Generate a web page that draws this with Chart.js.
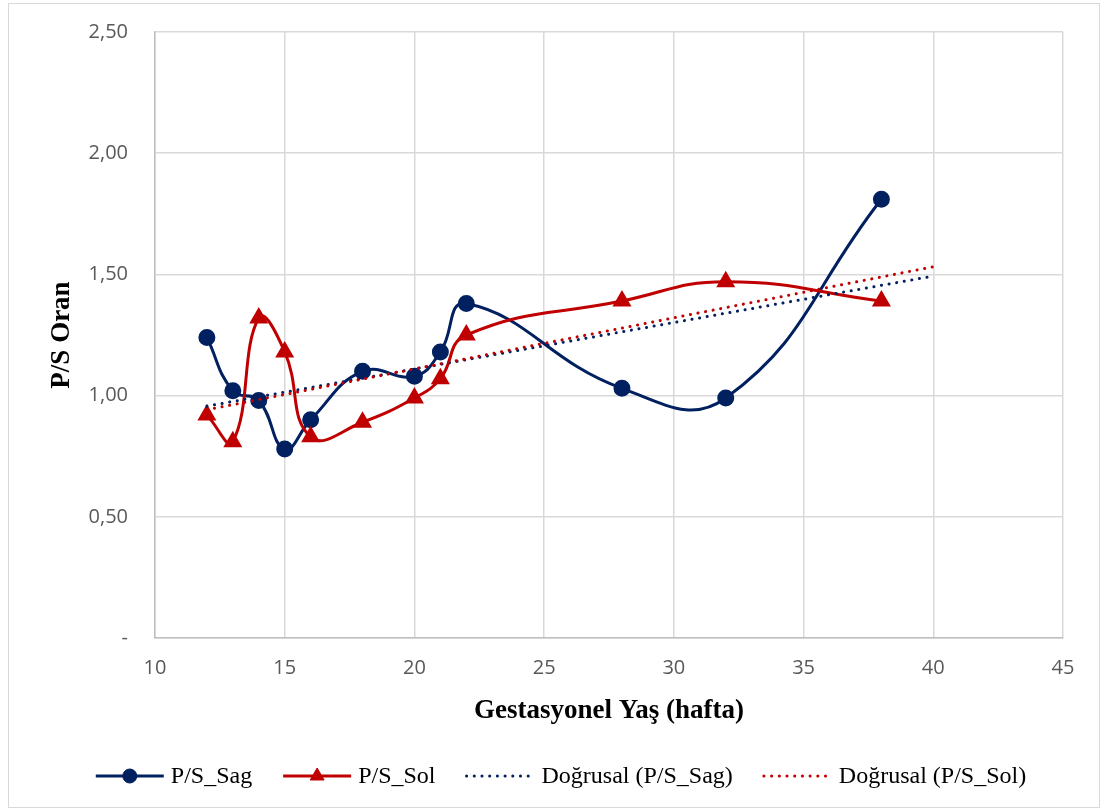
<!DOCTYPE html>
<html>
<head>
<meta charset="utf-8">
<script src="https://cdn.jsdelivr.net/npm/chart.js@4/dist/chart.umd.min.js"></script>
<style>
  html, body { margin: 0; padding: 0; background: #ffffff; }
  #wrap { position: relative; width: 1105px; height: 812px; }
</style>
</head>
<body>
<div id="wrap"><canvas id="c" width="1105" height="812"></canvas></div>
<script>
// Gestational age (weeks) and P/S ratios for right and left sides
const weeks  = [12, 13, 14, 15, 16, 18, 20, 21, 22, 28, 32, 38];
const psSag  = [1.24, 1.02, 0.98, 0.78, 0.90, 1.10, 1.08, 1.18, 1.38, 1.03, 0.99, 1.81];
const psSol  = [0.92, 0.81, 1.32, 1.18, 0.83, 0.89, 0.99, 1.07, 1.25, 1.39, 1.47, 1.39];
const xTicks = [10, 15, 20, 25, 30, 35, 40, 45];
const yTicks = [0, 0.5, 1.0, 1.5, 2.0, 2.5];
const trendSpan = [12, 40];   // linear trend drawn from first week forward to 40

const NAVY = '#002060';
const RED  = '#C00000';

// least-squares line through (xs, ys)
function linearFit(xs, ys) {
  const n = xs.length;
  const mx = xs.reduce((a, b) => a + b, 0) / n;
  const my = ys.reduce((a, b) => a + b, 0) / n;
  let sxy = 0, sxx = 0;
  for (let i = 0; i < n; i++) {
    sxy += (xs[i] - mx) * (ys[i] - my);
    sxx += (xs[i] - mx) * (xs[i] - mx);
  }
  const slope = sxy / sxx;
  return x => my + slope * (x - mx);
}

const pts = ys => weeks.map((w, i) => ({ x: w, y: ys[i] }));
const trend = ys => { const f = linearFit(weeks, ys); return trendSpan.map(x => ({ x, y: f(x) })); };

const fmtY = v => (Math.abs(v) < 1e-9 ? '-' : v.toFixed(2).replace('.', ','));

const frame = {
  id: 'frame',
  beforeDraw(chart) {
    const ctx = chart.ctx;
    ctx.save();
    ctx.fillStyle = '#ffffff';
    ctx.fillRect(0, 0, chart.width, chart.height);
    ctx.strokeStyle = '#d9d9d9';
    ctx.lineWidth = 1;
    ctx.strokeRect(8.5, 3.5, 1091, 804);
    ctx.restore();
  }
};

// legend row under the plot: line sample, optional marker, label
const bottomLegend = {
  id: 'bottomLegend',
  afterDraw(chart) {
    const ctx = chart.ctx;
    const items = chart.data.datasets;
    const symW = 68, textGap = 7, itemGap = 31, cy = 776;
    ctx.save();
    ctx.font = '24px "Liberation Serif", "Times New Roman", serif';
    ctx.textBaseline = 'middle';
    const widths = items.map(d => symW + textGap + ctx.measureText(d.label).width);
    const total = widths.reduce((a, b) => a + b, 0) + itemGap * (items.length - 1);
    let x = 561 - total / 2;
    items.forEach((d, i) => {
      ctx.save();
      ctx.strokeStyle = d.borderColor;
      ctx.lineWidth = d.borderWidth;
      ctx.lineCap = d.borderCapStyle || 'butt';
      ctx.setLineDash(d.borderDash || []);
      ctx.beginPath();
      ctx.moveTo(x, cy);
      ctx.lineTo(x + symW, cy);
      ctx.stroke();
      ctx.restore();
      if (d.pointRadius > 0) {
        ctx.save();
        ctx.fillStyle = d.pointBackgroundColor;
        ctx.strokeStyle = d.pointBorderColor;
        Chart.helpers.drawPoint(ctx, {
          pointStyle: d.pointStyle, radius: d.pointRadius, rotation: 0, borderWidth: 1
        }, x + symW / 2, cy);
        ctx.restore();
      }
      ctx.fillStyle = '#000000';
      ctx.textAlign = 'left';
      ctx.fillText(d.label, x + symW + textGap, cy + 1);
      x += widths[i] + itemGap;
    });
    ctx.restore();
  }
};

new Chart(document.getElementById('c'), {
  type: 'scatter',
  data: {
    datasets: [
      {
        label: 'P/S_Sag', data: pts(psSag), showLine: true, tension: 0.45,
        borderColor: NAVY, borderWidth: 3,
        pointStyle: 'circle', pointRadius: 7,
        pointBackgroundColor: NAVY, pointBorderColor: NAVY, order: 4
      },
      {
        label: 'P/S_Sol', data: pts(psSol), showLine: true, tension: 0.45,
        borderColor: RED, borderWidth: 3,
        pointStyle: 'triangle', pointRadius: 8,
        pointBackgroundColor: RED, pointBorderColor: RED, order: 3
      },
      {
        label: 'Doğrusal (P/S_Sag)', data: trend(psSag), showLine: true,
        borderColor: NAVY, borderWidth: 3, borderDash: [0.1, 7.6], borderCapStyle: 'round',
        pointRadius: 0, order: 2
      },
      {
        label: 'Doğrusal (P/S_Sol)', data: trend(psSol), showLine: true,
        borderColor: RED, borderWidth: 3, borderDash: [0.1, 7.6], borderCapStyle: 'round',
        pointRadius: 0, order: 1
      }
    ]
  },
  options: {
    responsive: false,
    animation: false,
    devicePixelRatio: 1,
    layout: { padding: { left: 0, top: 32, right: 42, bottom: 72 } },
    plugins: { legend: { display: false }, tooltip: { enabled: false } },
    scales: {
      x: {
        type: 'linear', min: xTicks[0], max: xTicks[xTicks.length - 1],
        afterBuildTicks: s => { s.ticks = xTicks.map(v => ({ value: v })); },
        afterFit: s => { s.height = 102; },
        grid: { color: '#d9d9d9', lineWidth: 1.5, drawTicks: false },
        border: { color: '#bfbfbf', width: 1.5 },
        ticks: {
          padding: 18, color: '#595959',
          font: { family: '"Open Sans", sans-serif', size: 20 },
          callback: v => String(v)
        },
        title: {
          display: true, text: 'Gestasyonel Yaş (hafta)', color: '#000000',
          font: { family: '"Liberation Serif", "Times New Roman", serif', size: 27, weight: 'bold' },
          padding: { top: 0, bottom: 13 }
        }
      },
      y: {
        type: 'linear', min: yTicks[0], max: yTicks[yTicks.length - 1],
        afterBuildTicks: s => { s.ticks = yTicks.map(v => ({ value: v })); },
        afterFit: s => { s.width = 155; s.paddingTop = 0; s.paddingBottom = 0; },
        grid: { color: '#d9d9d9', lineWidth: 1.5, drawTicks: false },
        border: { color: '#bfbfbf', width: 1.5 },
        ticks: {
          padding: 27, color: '#595959',
          font: { family: '"Open Sans", sans-serif', size: 20 },
          callback: v => fmtY(v)
        },
        title: {
          display: true, text: 'P/S Oran', color: '#000000',
          font: { family: '"Liberation Serif", "Times New Roman", serif', size: 27, weight: 'bold' },
          padding: { top: 46, bottom: 0 }
        }
      }
    }
  },
  plugins: [frame, bottomLegend]
});
</script>
</body>
</html>
